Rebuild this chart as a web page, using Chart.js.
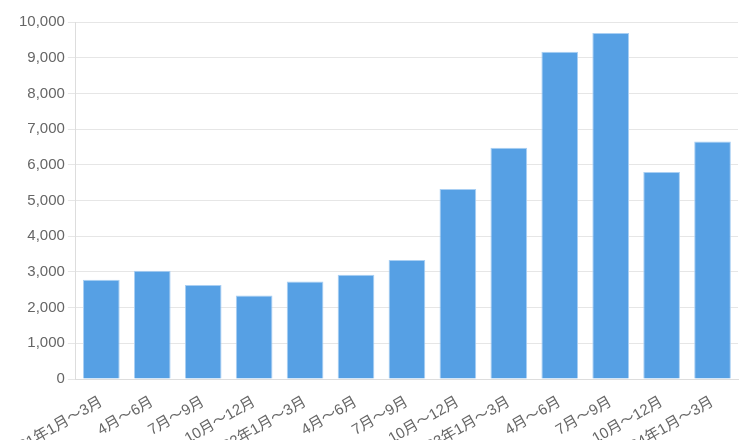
<!DOCTYPE html>
<html>
<head>
<meta charset="utf-8">
<script src="https://cdn.jsdelivr.net/npm/chart.js@4.4.0/dist/chart.umd.min.js"></script>
<style>
  html, body { margin: 0; padding: 0; background: #fff; }
  #wrap { width: 740px; height: 440px; position: relative; }
</style>
</head>
<body>
<div id="wrap"><canvas id="salesChart"></canvas></div>
<script>
const quarterLabels = [
    '2021年1月～3月', '4月～6月', '7月～9月', '10月～12月',
    '2022年1月～3月', '4月～6月', '7月～9月', '10月～12月',
    '2023年1月～3月', '4月～6月', '7月～9月', '10月～12月',
    '2024年1月～3月'
];
const quarterValues = [2780, 3030, 2630, 2340, 2730, 2920, 3330, 5320, 6480, 9170, 9690, 5800, 6650];

const yMax = 10000;
const yStep = 1000;

function initChart() {
    if (typeof Chart === 'undefined') {
        console.warn('Chart.js not loaded');
        return;
    }
    Chart.defaults.font.family = '"Liberation Sans", Arial, "Noto Sans CJK JP", sans-serif';
    Chart.defaults.font.size = 15;
    Chart.defaults.color = '#666';

    const ctx = document.getElementById('salesChart');
    new Chart(ctx, {
        type: 'bar',
        data: {
            labels: quarterLabels,
            datasets: [{
                data: quarterValues,
                backgroundColor: '#56a0e4',
                borderColor: '#a9cff3',
                borderWidth: 1,
                categoryPercentage: 0.9,
                barPercentage: 0.8
            }]
        },
        options: {
            responsive: true,
            maintainAspectRatio: false,
            animation: false,
            layout: { padding: { left: 16, top: 22, right: 2 } },
            plugins: { legend: { display: false }, tooltip: { enabled: false } },
            scales: {
                x: {
                    grid: { display: false },
                    border: { color: '#ddd' },
                    ticks: { autoSkip: false, maxRotation: 30, minRotation: 30, padding: 6 },
                    // long rotated labels run off the left and bottom edges
                    afterFit: scale => { scale.paddingLeft = 0; scale.height = 61; }
                },
                y: {
                    min: 0,
                    max: yMax,
                    ticks: { stepSize: yStep },
                    grid: { color: '#e6e6e6' },
                    border: { color: '#ddd' }
                }
            }
        }
    });
}

initChart();
</script>
</body>
</html>
